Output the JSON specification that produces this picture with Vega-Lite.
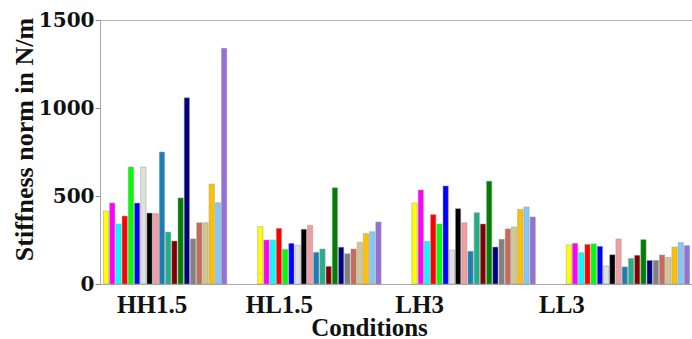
{
  "$schema": "https://vega.github.io/schema/vega-lite/v6.json",
  "width": 593,
  "height": 264,
  "autosize": "none",
  "padding": {"left": 100, "top": 20, "right": 0, "bottom": 55},
  "background": "white",
  "config": {"view": {"stroke": "#b4b4b4", "strokeWidth": 1}},
  "data": {
    "values": [
      {"condition": "HH1.5", "bar": 1, "value": 415}, {"condition": "HH1.5", "bar": 2, "value": 460}, {"condition": "HH1.5", "bar": 3, "value": 341}, {"condition": "HH1.5", "bar": 4, "value": 386}, {"condition": "HH1.5", "bar": 5, "value": 665},
      {"condition": "HH1.5", "bar": 6, "value": 460}, {"condition": "HH1.5", "bar": 7, "value": 665}, {"condition": "HH1.5", "bar": 8, "value": 403}, {"condition": "HH1.5", "bar": 9, "value": 400}, {"condition": "HH1.5", "bar": 10, "value": 750},
      {"condition": "HH1.5", "bar": 11, "value": 295}, {"condition": "HH1.5", "bar": 12, "value": 244}, {"condition": "HH1.5", "bar": 13, "value": 489}, {"condition": "HH1.5", "bar": 14, "value": 1058}, {"condition": "HH1.5", "bar": 15, "value": 256},
      {"condition": "HH1.5", "bar": 16, "value": 348}, {"condition": "HH1.5", "bar": 17, "value": 348}, {"condition": "HH1.5", "bar": 18, "value": 568}, {"condition": "HH1.5", "bar": 19, "value": 462}, {"condition": "HH1.5", "bar": 20, "value": 1339},
      {"condition": "HL1.5", "bar": 1, "value": 326}, {"condition": "HL1.5", "bar": 2, "value": 250}, {"condition": "HL1.5", "bar": 3, "value": 250}, {"condition": "HL1.5", "bar": 4, "value": 316}, {"condition": "HL1.5", "bar": 5, "value": 197},
      {"condition": "HL1.5", "bar": 6, "value": 231}, {"condition": "HL1.5", "bar": 7, "value": 220}, {"condition": "HL1.5", "bar": 8, "value": 311}, {"condition": "HL1.5", "bar": 9, "value": 333}, {"condition": "HL1.5", "bar": 10, "value": 180},
      {"condition": "HL1.5", "bar": 11, "value": 199}, {"condition": "HL1.5", "bar": 12, "value": 100}, {"condition": "HL1.5", "bar": 13, "value": 547}, {"condition": "HL1.5", "bar": 14, "value": 209}, {"condition": "HL1.5", "bar": 15, "value": 172},
      {"condition": "HL1.5", "bar": 16, "value": 199}, {"condition": "HL1.5", "bar": 17, "value": 237}, {"condition": "HL1.5", "bar": 18, "value": 286}, {"condition": "HL1.5", "bar": 19, "value": 297}, {"condition": "HL1.5", "bar": 20, "value": 352},
      {"condition": "LH3", "bar": 1, "value": 460}, {"condition": "LH3", "bar": 2, "value": 534}, {"condition": "LH3", "bar": 3, "value": 243}, {"condition": "LH3", "bar": 4, "value": 394}, {"condition": "LH3", "bar": 5, "value": 341},
      {"condition": "LH3", "bar": 6, "value": 557}, {"condition": "LH3", "bar": 7, "value": 193}, {"condition": "LH3", "bar": 8, "value": 428}, {"condition": "LH3", "bar": 9, "value": 348}, {"condition": "LH3", "bar": 10, "value": 186},
      {"condition": "LH3", "bar": 11, "value": 405}, {"condition": "LH3", "bar": 12, "value": 341}, {"condition": "LH3", "bar": 13, "value": 584}, {"condition": "LH3", "bar": 14, "value": 210}, {"condition": "LH3", "bar": 15, "value": 254},
      {"condition": "LH3", "bar": 16, "value": 313}, {"condition": "LH3", "bar": 17, "value": 324}, {"condition": "LH3", "bar": 18, "value": 424}, {"condition": "LH3", "bar": 19, "value": 438}, {"condition": "LH3", "bar": 20, "value": 381},
      {"condition": "LL3", "bar": 1, "value": 222}, {"condition": "LL3", "bar": 2, "value": 231}, {"condition": "LL3", "bar": 3, "value": 178}, {"condition": "LL3", "bar": 4, "value": 225}, {"condition": "LL3", "bar": 5, "value": 228},
      {"condition": "LL3", "bar": 6, "value": 214}, {"condition": "LL3", "bar": 7, "value": 102}, {"condition": "LL3", "bar": 8, "value": 166}, {"condition": "LL3", "bar": 9, "value": 256}, {"condition": "LL3", "bar": 10, "value": 97},
      {"condition": "LL3", "bar": 11, "value": 145}, {"condition": "LL3", "bar": 12, "value": 163}, {"condition": "LL3", "bar": 13, "value": 252}, {"condition": "LL3", "bar": 14, "value": 134}, {"condition": "LL3", "bar": 15, "value": 134},
      {"condition": "LL3", "bar": 16, "value": 165}, {"condition": "LL3", "bar": 17, "value": 151}, {"condition": "LL3", "bar": 18, "value": 210}, {"condition": "LL3", "bar": 19, "value": 235}, {"condition": "LL3", "bar": 20, "value": 218}
    ]
  },
  "mark": {"type": "bar", "stroke": "#9a9a9a", "strokeWidth": 0.5},
  "encoding": {
    "x": {
      "field": "condition",
      "type": "nominal",
      "sort": ["HH1.5", "HL1.5", "LH3", "LL3"],
      "scale": {"paddingInner": 0.2, "paddingOuter": 0.022},
      "axis": {
        "title": "Conditions",
        "labelAngle": 0,
        "ticks": false,
        "domainColor": "#a8a8a8",
        "labelFont": "Liberation Serif",
        "labelFontWeight": "bold",
        "labelFontSize": 25,
        "labelColor": "#111111",
        "labelPadding": 8,
        "labelOffset": {"expr": "datum.value === 'HH1.5' ? -13 : datum.value === 'HL1.5' ? -40 : datum.value === 'LH3' ? -54 : -66"},
        "titleFont": "Liberation Serif",
        "titleFontWeight": "bold",
        "titleFontSize": 25,
        "titleColor": "#111111",
        "titleX": 269,
        "titleY": 51,
        "titleAlign": "center",
        "titleBaseline": "alphabetic"
      }
    },
    "xOffset": {
      "field": "bar",
      "type": "nominal",
      "scale": {"paddingInner": 0.15}
    },
    "y": {
      "field": "value",
      "type": "quantitative",
      "scale": {"domain": [0, 1500], "nice": false},
      "axis": {
        "title": "Stiffness norm in N/m",
        "values": [0, 500, 1000, 1500],
        "format": "d",
        "grid": false,
        "domainColor": "#a8a8a8",
        "tickColor": "#888888",
        "tickSize": 5,
        "labelPadding": 1,
        "labelFont": "DejaVu Serif",
        "labelFontWeight": "bold",
        "labelFontSize": 20,
        "labelColor": "#111111",
        "titleFont": "Liberation Serif",
        "titleFontWeight": "bold",
        "titleFontSize": 26,
        "titleColor": "#111111",
        "titleX": -68,
        "titleY": 119,
        "titleAlign": "center",
        "titleBaseline": "alphabetic",
        "titleAngle": -90
      }
    },
    "color": {
      "field": "bar",
      "type": "nominal",
      "legend": null,
      "scale": {
        "domain": [1, 2, 3, 4, 5, 6, 7, 8, 9, 10, 11, 12, 13, 14, 15, 16, 17, 18, 19, 20],
        "range": ["#ffff00", "#ff00ff", "#00ffff", "#ff0000", "#00ff00", "#0000ff", "#e0e0e0", "#000000", "#f49ca4", "#1a7fb6", "#1fb088", "#800000", "#008000", "#000080", "#808080", "#c86a5a", "#d2c88e", "#ffc000", "#84c8f8", "#9370db"]
      }
    }
  }
}
